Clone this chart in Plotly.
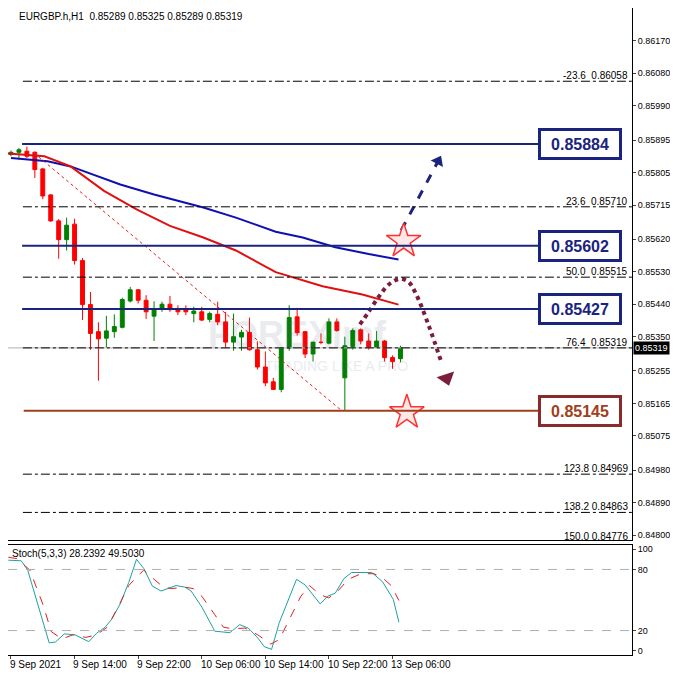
import plotly.graph_objects as go

opens  = [0.85855,0.85861,0.85864,0.85861,0.85815,0.85743,0.85671,0.85619,0.85662,0.85561,
          0.85439,0.85364,0.85346,0.85364,0.85376,0.85449,0.85480,0.85451,0.85407,0.85428,
          0.85440,0.85428,0.85424,0.85414,0.85419,0.85398,0.85412,0.85391,0.85335,0.85349,
          0.85362,0.85314,0.85266,0.85225,0.85204,0.85318,0.85405,0.85364,0.85302,0.85335,
          0.85332,0.85391,0.85236,0.85323,0.85369,0.85338,0.85320,0.85338,0.85292,0.85289]
highs  = [0.85866,0.85873,0.85877,0.85864,0.85818,0.85745,0.85676,0.85680,0.85677,0.85568,
          0.85474,0.85390,0.85408,0.85412,0.85458,0.85488,0.85482,0.85465,0.85448,0.85447,
          0.85463,0.85437,0.85437,0.85433,0.85433,0.85419,0.85447,0.85419,0.85414,0.85369,
          0.85403,0.85337,0.85309,0.85236,0.85320,0.85437,0.85430,0.85366,0.85335,0.85359,
          0.85401,0.85401,0.85350,0.85373,0.85373,0.85359,0.85366,0.85341,0.85298,0.85325]
lows   = [0.85850,0.85841,0.85845,0.85790,0.85731,0.85668,0.85566,0.85589,0.85550,0.85396,
          0.85314,0.85228,0.85320,0.85347,0.85373,0.85445,0.85442,0.85399,0.85338,0.85419,
          0.85419,0.85410,0.85410,0.85390,0.85393,0.85390,0.85382,0.85318,0.85311,0.85311,
          0.85311,0.85259,0.85213,0.85202,0.85196,0.85311,0.85353,0.85291,0.85281,0.85329,
          0.85329,0.85364,0.85144,0.85314,0.85329,0.85314,0.85318,0.85281,0.85261,0.85279]
closes = [0.85861,0.85868,0.85850,0.85813,0.85740,0.85671,0.85619,0.85659,0.85561,0.85439,
          0.85359,0.85344,0.85366,0.85378,0.85453,0.85480,0.85451,0.85419,0.85428,0.85440,
          0.85425,0.85419,0.85419,0.85421,0.85396,0.85414,0.85391,0.85335,0.85350,0.85362,
          0.85314,0.85266,0.85222,0.85204,0.85318,0.85403,0.85361,0.85302,0.85335,0.85334,
          0.85391,0.85367,0.85325,0.85367,0.85338,0.85320,0.85338,0.85292,0.85281,0.85319]
bars = list(range(len(opens)))

ma_blue_x = [0,4.6,7.5,13.75,18,24.2,28.3,33.3,36.7,40.8,45,48.75]
ma_blue_y = [0.85845,0.85836,0.85822,0.85772,0.85744,0.85708,0.85680,0.85641,0.85625,0.85598,0.85579,0.85564]
ma_red_x = [-0.5,1.7,4.2,7.5,11.7,15.8,20,24.2,28.3,33.3,36.7,39.2,44.2,48.75]
ma_red_y = [0.85858,0.85854,0.85850,0.85822,0.85754,0.85703,0.85657,0.85625,0.85589,0.85529,0.85506,0.85490,0.85467,0.85439]

k_zx = [10,40,55,105,120,140,165,197,215,235,250,270,290,308,325,345,365,400,420,435,460,490,525,548,568,590,605,622,640,660,680,700,735,752,770,790,808,855,880,905,918]
k_val = [89.1,88.5,79.4,7.9,8.8,16.7,15.8,9.1,17.3,23.3,30.9,46.1,67.3,90.0,80.9,63.6,58.8,64.2,62.7,58.8,43.0,19.4,17.9,25.8,22.4,12.7,4.2,1.5,27.9,49.1,70.3,64.8,46.1,53.6,56.7,70.9,77.0,77.0,67.9,50.6,28.2]
d_zx = [10,30,60,90,110,135,160,190,215,240,265,290,310,325,345,370,390,420,440,460,490,510,530,560,590,620,640,660,690,710,735,755,775,800,830,860,880,900,918]
d_val = [92,90.6,79.4,46.1,18.8,11.8,15.8,13.3,15.8,23.3,43.0,64.2,73.3,79.4,71.8,62.7,61.2,62.7,61.2,53.6,35.5,23.3,21.8,22.4,15.8,6.7,11.2,27.9,53.6,64.2,55.2,52.1,58.2,70.3,75.8,75.8,71.8,64.2,49.5]
k_x = [z/18.48-0.875 for z in k_zx]
d_x = [z/18.48-0.875 for z in d_zx]

levels = [0.85884, 0.85602, 0.85427]
support = 0.85145
last_price = 0.85319
fib_lv = ["-23.6","23.6","50.0","76.4","123.8","138.2","150.0"]
fib_px = [0.86058,0.85710,0.85515,0.85319,0.84969,0.84863,0.84776]
ytick_v = [0.86170,0.86080,0.85990,0.85895,0.85805,0.85715,0.85620,0.85530,0.85440,0.85350,0.85255,0.85165,0.85075,0.84980,0.84890,0.84800]
time_x = [0,8,16,24,32,40,48]
time_lbl = ["9 Sep 2021","9 Sep 14:00","9 Sep 22:00","10 Sep 06:00","10 Sep 14:00","10 Sep 22:00","13 Sep 06:00"]
trend_x = [2.9, 41.6]; trend_y = [0.85859, 0.85145]
up_x = [49.1, 53.75]; up_y = [0.85645, 0.85837]
arc_x = [43.9,45,46.25,47.5,48.9,50,51,52.6,54.1]
arc_y = [0.85384,0.85419,0.85460,0.85494,0.85510,0.85502,0.85466,0.85378,0.85282]
arc_head = (54.8, 0.85235)
stars_x = [49.4, 49.8]; stars_y = [0.85615, 0.85140]

XR = [-0.375, 78.125]
YR = [0.84787, 0.86261]
FONT = "Liberation Sans"
fig = go.Figure()
fig.add_trace(go.Candlestick(x=bars, open=opens, high=highs, low=lows, close=closes,
    increasing=dict(line=dict(color="#008000", width=1), fillcolor="#008000"),
    decreasing=dict(line=dict(color="#ff0000", width=1), fillcolor="#ff0000"),
    whiskerwidth=0, xaxis="x", yaxis="y", showlegend=False))
fig.add_trace(go.Scatter(x=ma_blue_x, y=ma_blue_y, mode="lines", line=dict(color="#1010b0", width=2), showlegend=False))
fig.add_trace(go.Scatter(x=ma_red_x, y=ma_red_y, mode="lines", line=dict(color="#e01010", width=2), showlegend=False))
fig.add_trace(go.Scatter(x=trend_x, y=trend_y, mode="lines", line=dict(color="#e02020", width=1, dash="dot"), showlegend=False))
fig.add_trace(go.Scatter(x=up_x, y=up_y, mode="lines", line=dict(color="#1a237e", width=3, dash="dash"), showlegend=False))
fig.add_trace(go.Scatter(x=[up_x[1]], y=[up_y[1]], mode="markers", marker=dict(symbol="triangle-up", size=12, angle=28, color="#1a237e"), showlegend=False))
fig.add_trace(go.Scatter(x=arc_x, y=arc_y, mode="lines", line=dict(color="#7b1e3a", width=4, dash="dot", shape="spline"), showlegend=False))
fig.add_trace(go.Scatter(x=[arc_head[0]], y=[arc_head[1]], mode="markers", marker=dict(symbol="triangle-down", size=16, angle=-18, color="#7b1e3a"), showlegend=False))
fig.add_trace(go.Scatter(x=stars_x, y=stars_y, mode="markers", marker=dict(symbol="star", size=26, color="#ffe8e8", line=dict(color="#ff3030", width=1.5)), showlegend=False))

fig.add_trace(go.Scatter(x=k_x, y=k_val, mode="lines", line=dict(color="#20a0a0", width=1), xaxis="x2", yaxis="y2", showlegend=False))
fig.add_trace(go.Scatter(x=d_x, y=d_val, mode="lines", line=dict(color="#e02020", width=1, dash="dash"), xaxis="x2", yaxis="y2", showlegend=False))

shapes = []
for lv, px in zip(fib_lv, fib_px):
    if lv == "76.4":
        shapes.append(dict(type="line", xref="x", yref="y", x0=XR[0], x1=XR[1], y0=px, y1=px, line=dict(color="#b0b0b0", width=1)))
    if px > YR[0]:
        shapes.append(dict(type="line", xref="x", yref="y", x0=1.5, x1=XR[1], y0=px, y1=px, line=dict(color="black", width=1, dash="dashdot")))
for lv in levels:
    shapes.append(dict(type="line", xref="x", yref="y", x0=1.4, x1=67, y0=lv, y1=lv, line=dict(color="#1a237e", width=2)))
shapes.append(dict(type="line", xref="x", yref="y", x0=1.6, x1=67, y0=support, y1=support, line=dict(color="#a0401a", width=2)))
for v in [80, 20]:
    shapes.append(dict(type="line", xref="x2", yref="y2", x0=XR[0], x1=XR[1], y0=v, y1=v, line=dict(color="#b0b0b0", width=1, dash="dash")))

ann = []
for lv, px in zip(fib_lv, fib_px):
    txt = f"{lv}  {px:.5f}" if lv not in ("123.8","138.2","150.0") else f"{lv} {px:.5f}"
    if px > YR[0]:
        ann.append(dict(x=XR[1]-0.2, y=px, xref="x", yref="y", text=txt, showarrow=False, xanchor="right", yanchor="bottom",
                        yshift=-2, font=dict(size=10, color="black", family=FONT)))
    else:
        ann.append(dict(x=XR[1]-0.2, y=0.178, xref="x", yref="paper", text=txt, showarrow=False, xanchor="right", yanchor="bottom",
                        yshift=-4, font=dict(size=10, color="black", family=FONT)))
for lv, col in [(levels[0], "#1a237e"), (levels[1], "#1a237e"), (levels[2], "#1a237e"), (support, "#8b2a2a")]:
    ann.append(dict(x=71.6, y=lv, xref="x", yref="y", text=f"<b>{lv:.5f}</b>", showarrow=False,
                    font=dict(size=16, color=col if lv != support else "#a0401a", family=FONT),
                    bordercolor=col, borderwidth=3, bgcolor="white", width=76, height=24))
ann.append(dict(x=1.0, y=last_price, xref="paper", yref="y", text=f"{last_price:.5f}", showarrow=False, xanchor="left",
                xshift=1, font=dict(size=9, color="white", family=FONT), bgcolor="black"))
ann.append(dict(x=0.015, y=0.999, xref="paper", yref="paper", text="EURGBP.h,H1  0.85289 0.85325 0.85289 0.85319",
                showarrow=False, xanchor="left", yanchor="top", font=dict(size=10, color="black", family=FONT)))
ann.append(dict(x=0.004, y=0.168, xref="paper", yref="paper", text="Stoch(5,3,3) 28.2392 49.5030",
                showarrow=False, xanchor="left", yanchor="top", font=dict(size=10, color="black", family=FONT)))
ann.append(dict(x=36, y=0.85355, xref="x", yref="y", text="<b>FOREXimf</b>", showarrow=False, opacity=0.12,
                font=dict(size=36, color="#506080", family=FONT)))
ann.append(dict(x=41, y=0.85268, xref="x", yref="y", text="TRADING LIKE A PRO", showarrow=False, opacity=0.12,
                font=dict(size=14, color="#506080", family=FONT)))
for tx, tl in zip(time_x, time_lbl):
    ann.append(dict(x=max(tx-0.4, XR[0]), y=0, xref="x2", yref="paper", text=tl, showarrow=False, xanchor="left", yanchor="top",
                    yshift=-2, font=dict(size=10, color="black", family=FONT)))

ax = dict(showgrid=False, zeroline=False, showline=True, linecolor="black", mirror=True, linewidth=1)
fig.update_layout(
    width=678, height=678, margin=dict(l=0, r=54, t=0, b=31),
    paper_bgcolor="white", plot_bgcolor="white",
    shapes=shapes, annotations=ann,
    xaxis=dict(**ax, range=XR, domain=[0, 1], anchor="y", showticklabels=False, rangeslider=dict(visible=False), ticks=""),
    yaxis=dict(**ax, range=YR, domain=[0.178, 1], side="right", tickmode="array", tickvals=ytick_v,
               ticktext=[f"{v:.5f}" for v in ytick_v], ticks="outside", ticklen=3, tickfont=dict(size=9, family=FONT, color="black")),
    xaxis2=dict(**ax, range=XR, domain=[0, 1], anchor="y2", showticklabels=False, ticks="outside", tickvals=time_x, ticklen=3),
    yaxis2=dict(**ax, range=[-4, 104], domain=[0, 0.170], side="right", tickvals=[0, 20, 80, 100],
                ticks="outside", ticklen=3, tickfont=dict(size=9, family=FONT, color="black")),
)
fig.write_html("out.html")
